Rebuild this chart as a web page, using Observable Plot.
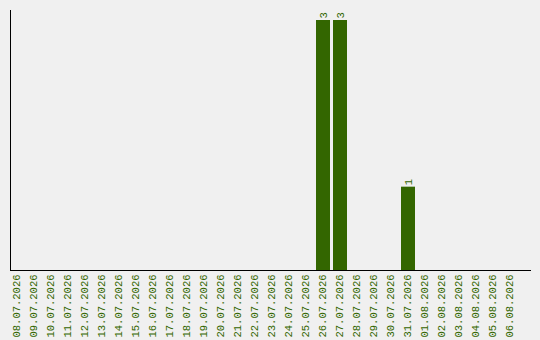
<!DOCTYPE html>
<html>
<head>
<meta charset="utf-8">
<script src="https://cdn.jsdelivr.net/npm/d3@7"></script>
<script src="https://cdn.jsdelivr.net/npm/@observablehq/plot@0.6"></script>
<style>
  html, body { margin: 0; padding: 0; background: #f0f0f0; }
  #chart svg { display: block; background: #f0f0f0; }
</style>
</head>
<body>
<div id="chart"></div>
<script>
const dates = [
  "08.07.2026","09.07.2026","10.07.2026","11.07.2026","12.07.2026","13.07.2026",
  "14.07.2026","15.07.2026","16.07.2026","17.07.2026","18.07.2026","19.07.2026",
  "20.07.2026","21.07.2026","22.07.2026","23.07.2026","24.07.2026","25.07.2026",
  "26.07.2026","27.07.2026","28.07.2026","29.07.2026","30.07.2026","31.07.2026",
  "01.08.2026","02.08.2026","03.08.2026","04.08.2026","05.08.2026","06.08.2026"
];
const counts = [
  0,0,0,0,0,0,
  0,0,0,0,0,0,
  0,0,0,0,0,0,
  3,3,0,0,0,1,
  0,0,0,0,0,0
];

const rows = dates.map((d, i) => ({date: d, count: counts[i]}));
const nonzero = rows.filter(r => r.count > 0);
const green = "#336600";
const mono = "'Liberation Mono', monospace";

const chart = Plot.plot({
  width: 540,
  height: 340,
  marginTop: 10,
  marginLeft: 10,
  marginRight: 10,
  marginBottom: 70,
  style: {background: "#f0f0f0", fontFamily: mono, fontSize: "10.5px"},
  x: {type: "band", domain: dates, range: [8.5, 518.5], paddingInner: 3 / 17, paddingOuter: 1.5 / 17},
  y: {domain: [0, 3.12], axis: null},
  marks: [
    Plot.barY(nonzero, {x: "date", y: "count", fill: green}),
    Plot.text(nonzero, {
      x: "date", y: "count", text: d => String(d.count),
      rotate: -90, textAnchor: "start", dy: -2, fill: green, fontSize: 10.5, fontFamily: mono
    }),
    Plot.axisX({
      tickRotate: -90, tickSize: 0, tickPadding: 4, dx: -1, fill: green,
      fontSize: 10.5, fontFamily: mono, label: null
    }),
    Plot.frame({anchor: "left", stroke: "#000"}),
    Plot.frame({anchor: "bottom", stroke: "#000"})
  ]
});
document.getElementById("chart").append(chart);
</script>
</body>
</html>
